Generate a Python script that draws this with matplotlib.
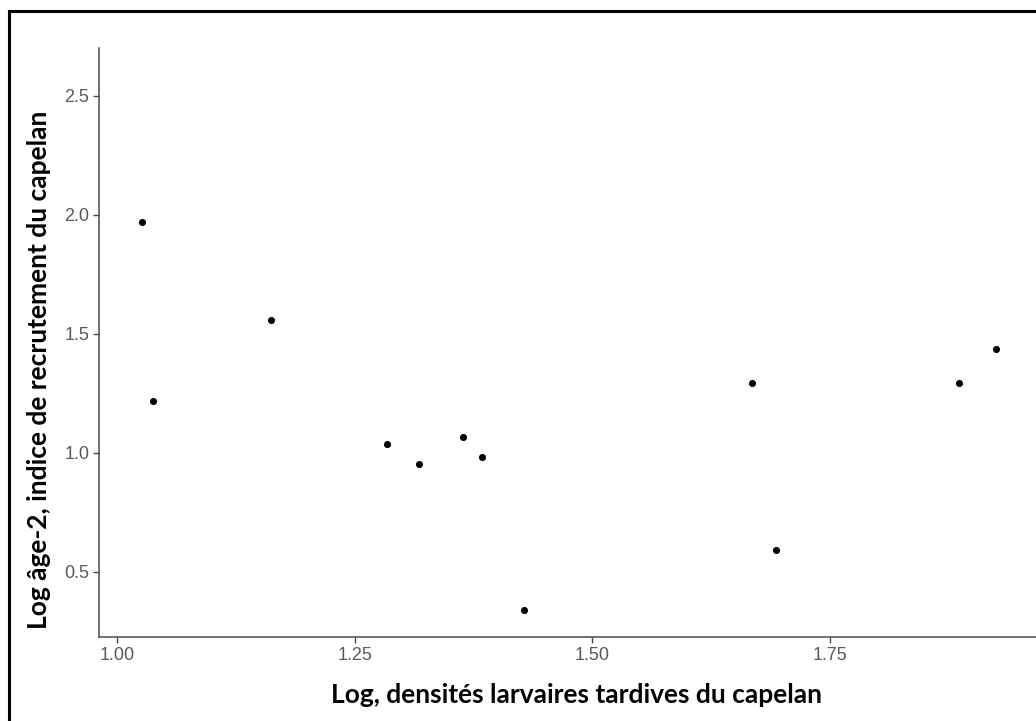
import matplotlib.pyplot as plt
from matplotlib.lines import Line2D

# densités larvaires tardives (log) et indice de recrutement âge-2 (log)
larval_density = [1.026, 1.038, 1.162, 1.284, 1.318, 1.364, 1.384, 1.428, 1.668, 1.693, 1.886, 1.925]
age2_index = [1.968, 1.218, 1.557, 1.037, 0.950, 1.064, 0.981, 0.337, 1.291, 0.590, 1.291, 1.434]

x_ticks = [1.00, 1.25, 1.50, 1.75]
x_tick_labels = ["1.00", "1.25", "1.50", "1.75"]
y_ticks = [0.5, 1.0, 1.5, 2.0, 2.5]
y_tick_labels = ["0.5", "1.0", "1.5", "2.0", "2.5"]

W, H = 1036, 721
fig = plt.figure(figsize=(W / 100, H / 100), dpi=100)

# panneau: gauche 99 px, bas 637 px, haut 48 px, dépasse à droite
left, right, top, bottom = 99, 1053, 48, 637
ax = fig.add_axes([left / W, (H - bottom) / H, (right - left) / W, (bottom - top) / H])

ax.scatter(larval_density, age2_index, s=26, color="black", linewidths=0, zorder=3)

ax.set_xlim(0.981, 1.985)
ax.set_ylim(0.225, 2.70)
ax.set_xticks(x_ticks)
ax.set_xticklabels(x_tick_labels)
ax.set_yticks(y_ticks)
ax.set_yticklabels(y_tick_labels)

for side in ["top", "right"]:
    ax.spines[side].set_visible(False)
for side in ["left", "bottom"]:
    ax.spines[side].set_color("#4a4a4a")
    ax.spines[side].set_linewidth(1.1)

ax.tick_params(axis="both", colors="#4a4a4a", length=4, width=1.0, labelsize=13,
               labelcolor="#5a5a5a", pad=3)
for lab in ax.get_xticklabels() + ax.get_yticklabels():
    lab.set_fontfamily("Liberation Sans")

ax.set_xlabel("Log, densités larvaires tardives du capelan", fontsize=19,
              fontweight="bold", family="Lato", labelpad=14)
fig.text(39 / W, 1 - 370 / H, "Log âge-2, indice de recrutement du capelan", fontsize=19,
         fontweight="bold", family="Lato", rotation=90, ha="center", va="center")

# cadre noir autour de l'image (coupé à droite et en bas)
fig.add_artist(Line2D([9 / W, 1.01], [1 - 11 / H, 1 - 11 / H], color="black", lw=2.2,
                      transform=fig.transFigure))
fig.add_artist(Line2D([9 / W, 9 / W], [-0.01, 1 - 11 / H], color="black", lw=2.2,
                      transform=fig.transFigure))

fig.savefig("out.png", dpi=100)
